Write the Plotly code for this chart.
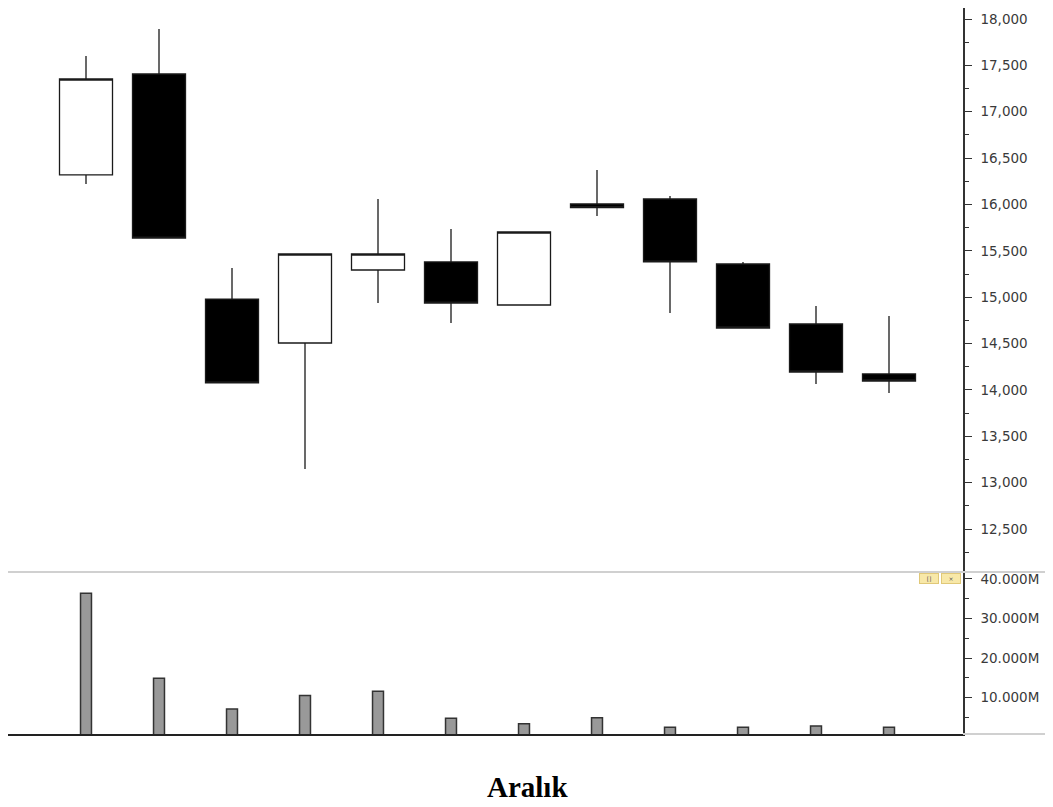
import plotly.graph_objects as go

# ---- data ----
days = list(range(12))
opens  = [16318, 17407, 14980, 14506, 15293, 15380, 14916, 16005, 16059, 15358, 14711, 14172]
highs  = [17601, 17892, 15315, 15466, 16059, 15735, 15703, 16372, 16091, 15380, 14905, 14797]
lows   = [16221, 15638, 14075, 13147, 14937, 14722, 14910, 15876, 14830, 14668, 14064, 13967]
closes = [17353, 15638, 14075, 15466, 15466, 14937, 15703, 15965, 15380, 14668, 14193, 14096]
volumes = [36.4e6, 14.9e6, 7.1e6, 10.5e6, 11.6e6, 4.8e6, 3.4e6, 4.9e6, 2.5e6, 2.5e6, 2.85e6, 2.5e6]

vol_tickvals = [10e6, 20e6, 30e6, 40e6]
vol_ticktext = ["10.000M", "20.000M", "30.000M", "40.000M"]
title_text = "Aralık"

# the page body has an 8px margin, so the figure is sized to the visible area
OFF = 8
W, H = 1053 - OFF, 807 - OFF
L, R, T, B = 0, 90, 0, 73
plot_w = W - L - R
plot_h = H - T - B
split = (734 - 572) / plot_h

fig = go.Figure()

fig.add_trace(go.Candlestick(
    x=days, open=opens, high=highs, low=lows, close=closes,
    increasing=dict(fillcolor="#ffffff", line=dict(color="#1a1a1a", width=1.3)),
    decreasing=dict(fillcolor="#000000", line=dict(color="#1a1a1a", width=1.3)),
    whiskerwidth=0, showlegend=False, hoverinfo="skip",
    xaxis="x", yaxis="y",
))

fig.add_trace(go.Bar(
    x=days, y=volumes, width=0.15,
    marker=dict(color="#999999", line=dict(color="#333333", width=1.5)),
    showlegend=False, hoverinfo="skip",
    xaxis="x2", yaxis="y2",
))

# screen x of candle 0 centre is 86, spacing 73 px
xr = [(L + OFF - 86) / 73.0, (L + OFF + plot_w - 86) / 73.0]
# price scale: 18,000 at screen y 19, 0.09273 px per unit
px_per = 0.09273
y_top = 18000 + (19 - OFF) / px_per
y_bot = 18000 - (572 - 19) / px_per

tickfont = dict(family="DejaVu Sans", size=13.5, color="#3a3a3a")

def fx(sx):
    return (sx - OFF - L) / plot_w

def fy(sy):
    return (T + plot_h - (sy - OFF)) / plot_h

fig.update_layout(
    width=W, height=H,
    margin=dict(l=L, r=R, t=T, b=B, autoexpand=False),
    paper_bgcolor="white", plot_bgcolor="white",
    boxgap=0.274, boxgroupgap=0,
    xaxis=dict(domain=[0, 1], range=xr, visible=False, anchor="y",
               rangeslider=dict(visible=False), fixedrange=True),
    yaxis=dict(domain=[split, 1], range=[y_bot, y_top], side="right", anchor="x",
               showgrid=False, zeroline=False, showline=True, linecolor="#333333", linewidth=1.5,
               ticks="outside", ticklen=7, tickwidth=1, tickcolor="#333333",
               dtick=500, tick0=0, tickformat=",d", tickfont=tickfont,
               minor=dict(ticks="outside", ticklen=4, tickcolor="#333333", dtick=250, tick0=0, showgrid=False),
               ticklabelstandoff=6, automargin=False),
    xaxis2=dict(domain=[0, 1], range=xr, anchor="y2", showticklabels=False, ticks="",
                showgrid=False, zeroline=False, showline=True, linecolor="#222222", linewidth=2,
                fixedrange=True),
    yaxis2=dict(domain=[0, split], range=[0.8e6, 41.74e6], side="right", anchor="x2",
                showgrid=False, zeroline=False, showline=True, linecolor="#333333", linewidth=1.5,
                ticks="outside", ticklen=7, tickwidth=1, tickcolor="#333333",
                tickvals=vol_tickvals, ticktext=vol_ticktext, tickfont=tickfont,
                minor=dict(ticks="outside", ticklen=4, tickcolor="#333333", dtick=5e6, tick0=0, showgrid=False),
                ticklabelstandoff=6, automargin=False),
    shapes=[
        dict(type="line", xref="paper", yref="paper", x0=0, x1=W / plot_w,
             y0=split, y1=split, line=dict(color="#d0d0d0", width=2)),
        dict(type="line", xref="paper", yref="paper", x0=1, x1=W / plot_w,
             y0=0, y1=0, line=dict(color="#d0d0d0", width=2)),
    ],
    annotations=[
        dict(text="<b>" + title_text + "</b>", xref="paper", yref="paper",
             x=fx(527), y=fy(787), xanchor="center", yanchor="middle",
             showarrow=False, font=dict(family="Liberation Serif", size=29, color="#000000")),
        dict(text="[]", xref="paper", yref="paper", x=fx(929), y=fy(578),
             xanchor="center", yanchor="middle", showarrow=False,
             font=dict(family="DejaVu Sans", size=6, color="#555555"),
             bgcolor="#f8e8a8", bordercolor="#e0c878", borderwidth=1, borderpad=1, width=16, height=7),
        dict(text="×", xref="paper", yref="paper", x=fx(951), y=fy(578),
             xanchor="center", yanchor="middle", showarrow=False,
             font=dict(family="DejaVu Sans", size=6, color="#555555"),
             bgcolor="#f8e8a8", bordercolor="#e0c878", borderwidth=1, borderpad=1, width=16, height=7),
    ],
)

fig.write_html("out.html", config={"displayModeBar": False})
